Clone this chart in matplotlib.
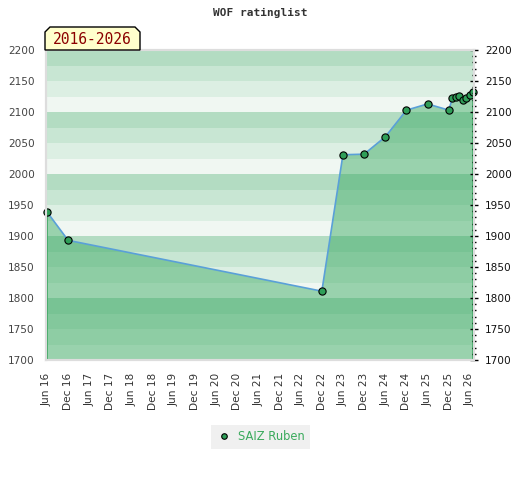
import numpy as np
import pandas as pd
import matplotlib
matplotlib.use("Agg")
import matplotlib.pyplot as plt
import matplotlib.dates as mdates
from matplotlib.patches import Polygon
from matplotlib.ticker import MultipleLocator
from matplotlib.lines import Line2D

# WOF rating history of SAIZ Ruben
dates = pd.to_datetime([
    "2016-06-01", "2016-12-01", "2022-12-01", "2023-06-01", "2023-12-01",
    "2024-06-01", "2024-12-01", "2025-06-01", "2025-12-01", "2026-01-01",
    "2026-02-01", "2026-03-01", "2026-04-01", "2026-05-01", "2026-06-01",
    "2026-07-01",
])
ratings = [1939, 1893, 1811, 2031, 2032, 2060, 2103, 2113, 2103, 2122,
           2124, 2126, 2119, 2123, 2128, 2132]

player = "SAIZ Ruben"
period = "2016-2026"
y_min, y_max = 1700, 2200

# band colours, from top of each 100-point block down
light_bands = ["#b3dcc2", "#c8e6d3", "#dcefe3", "#f0f7f2"]
dark_bands = ["#78c394", "#83c89c", "#8ecda4", "#99d2ad"]

fig = plt.figure(figsize=(5.2, 4.8), dpi=100)
ax = fig.add_axes([46/520, 1-360/480, 428/520, 310/480])

# background stripes and the darker stripes under the rating line
fill = ax.fill_between(dates, ratings, y_min, facecolor="none", edgecolor="none")
clip = fill.get_paths()[0]
for top in range(y_max, y_min, -25):
    k = ((y_max - top) // 25) % 4
    ax.axhspan(top - 25, top, color=light_bands[k], lw=0, zorder=0)
    s = ax.axhspan(top - 25, top, color=dark_bands[k], lw=0, zorder=1)
    s.set_clip_path(clip, ax.transData)

ax.vlines([dates[0]], y_min, ratings[0], color="#33a35a", lw=1.2, zorder=2)
ax.vlines([dates[-1]], y_min, ratings[-1], color="#33a35a", lw=1.2, zorder=2)

ax.plot(dates, ratings, color="#5aa0d8", lw=1.2, zorder=3)
ax.plot(dates, ratings, "o", ms=5.2, mfc="#2f9e58", mec="black", mew=0.8,
        zorder=4, clip_on=False)

ax.set_xlim(dates[0] - pd.Timedelta(days=8), dates[-1] + pd.Timedelta(days=6))
ax.set_ylim(y_min, y_max)

ax.xaxis.set_major_locator(mdates.MonthLocator(bymonth=[6, 12]))
ax.xaxis.set_major_formatter(mdates.DateFormatter("%b %y"))
ax.tick_params(axis="x", rotation=90, length=0, pad=9.5, labelsize=7.6,
               labelcolor="#333333")

ax.yaxis.set_major_locator(MultipleLocator(50))
ax.tick_params(axis="y", left=False, length=0, labelsize=7.6,
               labelcolor="#444444", pad=8)

# right-hand scale with minor ticks
ax2 = ax.twinx()
ax2.set_ylim(y_min, y_max)
ax2.yaxis.set_major_locator(MultipleLocator(50))
ax2.yaxis.set_minor_locator(MultipleLocator(10))
ax2.tick_params(axis="y", which="both", direction="inout", color="black",
                labelsize=7.6, labelcolor="#111111", width=1)
ax2.tick_params(axis="y", which="major", length=5.5, pad=5)
ax2.tick_params(axis="y", which="minor", length=3.5)

for a in (ax, ax2):
    for side in ["left", "top", "bottom", "right"]:
        a.spines[side].set_color("#dddddd")
        a.spines[side].set_linewidth(1.5)

fig.text(0.5, 1-13/480, "WOF ratinglist", ha="center", va="center",
         family="DejaVu Sans Mono", weight="bold", fontsize=8, color="#333333")

# period tag above the plot
corners = [(45, 50), (45, 32), (50, 27), (135, 27), (140, 32), (140, 50)]
tag = Polygon([(x/520, 1-y/480) for x, y in corners], closed=True,
              transform=fig.transFigure, facecolor="#ffffcc",
              edgecolor="black", lw=1, zorder=5)
fig.patches.append(tag)
fig.text(92.5/520, 1-39.5/480, period, ha="center", va="center",
         family="DejaVu Sans Mono", fontsize=10.5, color="#8b0000", zorder=6)

handle = Line2D([], [], ls="none", marker="o", ms=4, mfc="#2f9e58",
                mec="black", mew=0.8)
leg = fig.legend([handle], [player], loc="center",
                 bbox_to_anchor=(260.5/520, 1-437/480), frameon=True,
                 facecolor="#f0f0f0", edgecolor="none", fancybox=False,
                 fontsize=8.3, handletextpad=0.5, borderpad=0.45,
                 handlelength=1.4, borderaxespad=0)
leg.get_frame().set_alpha(1)
for t in leg.get_texts():
    t.set_color("#3aaa5c")

fig.savefig("out.png", dpi=100)
